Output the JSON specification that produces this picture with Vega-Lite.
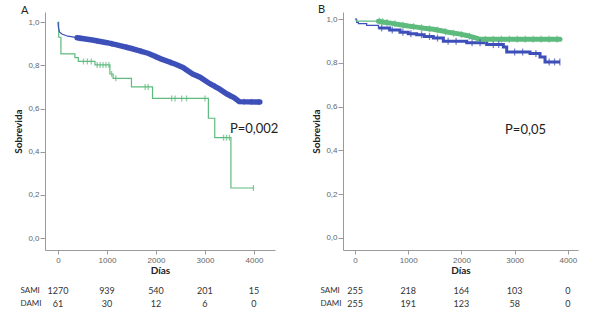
{
  "$schema": "https://vega.github.io/schema/vega-lite/v6.json",
  "padding": {"left": 13, "top": 4, "right": 5, "bottom": 2},
  "background": "white",
  "config": {
    "view": {"stroke": null},
    "font": "Liberation Sans",
    "axis": {"grid": false, "domainColor": "#9a9a9a", "tickColor": "#9a9a9a", "labelColor": "#666", "labelFontSize": 8, "titleColor": "#222", "titleFontSize": 10, "titleFontWeight": "bold", "titleFont": "Lato", "labelFont": "Liberation Sans"}
  },
  "datasets": {
    "km": [
      {"panel": "A", "group": "SAMI", "day": 0, "surv": 1.0},
      {"panel": "A", "group": "SAMI", "day": 10, "surv": 0.975},
      {"panel": "A", "group": "SAMI", "day": 30, "surv": 0.955},
      {"panel": "A", "group": "SAMI", "day": 80, "surv": 0.945},
      {"panel": "A", "group": "SAMI", "day": 200, "surv": 0.935},
      {"panel": "A", "group": "SAMI", "day": 390, "surv": 0.928},
      {"panel": "A", "group": "SAMI", "day": 700, "surv": 0.917},
      {"panel": "A", "group": "SAMI", "day": 1000, "surv": 0.905},
      {"panel": "A", "group": "SAMI", "day": 1200, "surv": 0.895},
      {"panel": "A", "group": "SAMI", "day": 1500, "surv": 0.878},
      {"panel": "A", "group": "SAMI", "day": 1850, "surv": 0.855},
      {"panel": "A", "group": "SAMI", "day": 2100, "surv": 0.83},
      {"panel": "A", "group": "SAMI", "day": 2400, "surv": 0.805},
      {"panel": "A", "group": "SAMI", "day": 2550, "surv": 0.79},
      {"panel": "A", "group": "SAMI", "day": 2750, "surv": 0.76},
      {"panel": "A", "group": "SAMI", "day": 2900, "surv": 0.745},
      {"panel": "A", "group": "SAMI", "day": 3100, "surv": 0.715},
      {"panel": "A", "group": "SAMI", "day": 3300, "surv": 0.69},
      {"panel": "A", "group": "SAMI", "day": 3450, "surv": 0.667},
      {"panel": "A", "group": "SAMI", "day": 3600, "surv": 0.65},
      {"panel": "A", "group": "SAMI", "day": 3700, "surv": 0.632},
      {"panel": "A", "group": "SAMI", "day": 4120, "surv": 0.63},
      {"panel": "A", "group": "DAMI", "day": 0, "surv": 1.0},
      {"panel": "A", "group": "DAMI", "day": 15, "surv": 0.93},
      {"panel": "A", "group": "DAMI", "day": 60, "surv": 0.853},
      {"panel": "A", "group": "DAMI", "day": 345, "surv": 0.836},
      {"panel": "A", "group": "DAMI", "day": 415, "surv": 0.818},
      {"panel": "A", "group": "DAMI", "day": 755, "surv": 0.802},
      {"panel": "A", "group": "DAMI", "day": 1060, "surv": 0.76},
      {"panel": "A", "group": "DAMI", "day": 1125, "surv": 0.74},
      {"panel": "A", "group": "DAMI", "day": 1500, "surv": 0.70},
      {"panel": "A", "group": "DAMI", "day": 1930, "surv": 0.647},
      {"panel": "A", "group": "DAMI", "day": 3070, "surv": 0.555},
      {"panel": "A", "group": "DAMI", "day": 3200, "surv": 0.465},
      {"panel": "A", "group": "DAMI", "day": 3530, "surv": 0.232},
      {"panel": "A", "group": "DAMI", "day": 4000, "surv": 0.232},
      {"panel": "B", "group": "SAMI", "day": 0, "surv": 1.0},
      {"panel": "B", "group": "SAMI", "day": 30, "surv": 0.985},
      {"panel": "B", "group": "SAMI", "day": 63, "surv": 0.979},
      {"panel": "B", "group": "SAMI", "day": 219, "surv": 0.971},
      {"panel": "B", "group": "SAMI", "day": 439, "surv": 0.959},
      {"panel": "B", "group": "SAMI", "day": 650, "surv": 0.95},
      {"panel": "B", "group": "SAMI", "day": 846, "surv": 0.94},
      {"panel": "B", "group": "SAMI", "day": 1000, "surv": 0.933},
      {"panel": "B", "group": "SAMI", "day": 1159, "surv": 0.928},
      {"panel": "B", "group": "SAMI", "day": 1300, "surv": 0.92},
      {"panel": "B", "group": "SAMI", "day": 1472, "surv": 0.913},
      {"panel": "B", "group": "SAMI", "day": 1660, "surv": 0.898},
      {"panel": "B", "group": "SAMI", "day": 2099, "surv": 0.892},
      {"panel": "B", "group": "SAMI", "day": 2475, "surv": 0.883},
      {"panel": "B", "group": "SAMI", "day": 2788, "surv": 0.872},
      {"panel": "B", "group": "SAMI", "day": 2851, "surv": 0.849},
      {"panel": "B", "group": "SAMI", "day": 3289, "surv": 0.842},
      {"panel": "B", "group": "SAMI", "day": 3477, "surv": 0.826},
      {"panel": "B", "group": "SAMI", "day": 3571, "surv": 0.804},
      {"panel": "B", "group": "SAMI", "day": 3853, "surv": 0.804},
      {"panel": "B", "group": "DAMI", "day": 0, "surv": 1.0},
      {"panel": "B", "group": "DAMI", "day": 30, "surv": 0.99},
      {"panel": "B", "group": "DAMI", "day": 439, "surv": 0.99},
      {"panel": "B", "group": "DAMI", "day": 550, "surv": 0.985},
      {"panel": "B", "group": "DAMI", "day": 700, "surv": 0.98},
      {"panel": "B", "group": "DAMI", "day": 846, "surv": 0.974},
      {"panel": "B", "group": "DAMI", "day": 1000, "surv": 0.968},
      {"panel": "B", "group": "DAMI", "day": 1159, "surv": 0.963},
      {"panel": "B", "group": "DAMI", "day": 1300, "surv": 0.958},
      {"panel": "B", "group": "DAMI", "day": 1472, "surv": 0.953},
      {"panel": "B", "group": "DAMI", "day": 1650, "surv": 0.945},
      {"panel": "B", "group": "DAMI", "day": 1786, "surv": 0.938},
      {"panel": "B", "group": "DAMI", "day": 1950, "surv": 0.932},
      {"panel": "B", "group": "DAMI", "day": 2099, "surv": 0.925},
      {"panel": "B", "group": "DAMI", "day": 2250, "surv": 0.915},
      {"panel": "B", "group": "DAMI", "day": 2350, "surv": 0.907},
      {"panel": "B", "group": "DAMI", "day": 3853, "surv": 0.907}
    ],
    "cens": [
      {"panel": "A", "group": "SAMI", "day": 450, "surv": 0.926},
      {"panel": "A", "group": "SAMI", "day": 800, "surv": 0.913},
      {"panel": "A", "group": "SAMI", "day": 1100, "surv": 0.9},
      {"panel": "A", "group": "SAMI", "day": 1400, "surv": 0.884},
      {"panel": "A", "group": "SAMI", "day": 1700, "surv": 0.865},
      {"panel": "A", "group": "SAMI", "day": 2000, "surv": 0.84},
      {"panel": "A", "group": "SAMI", "day": 2300, "surv": 0.813},
      {"panel": "A", "group": "SAMI", "day": 2600, "surv": 0.782},
      {"panel": "A", "group": "SAMI", "day": 2850, "surv": 0.75},
      {"panel": "A", "group": "SAMI", "day": 3200, "surv": 0.703},
      {"panel": "A", "group": "SAMI", "day": 3500, "surv": 0.661},
      {"panel": "A", "group": "SAMI", "day": 3800, "surv": 0.632},
      {"panel": "A", "group": "SAMI", "day": 3950, "surv": 0.631},
      {"panel": "A", "group": "SAMI", "day": 4100, "surv": 0.63},
      {"panel": "A", "group": "DAMI", "day": 520, "surv": 0.818},
      {"panel": "A", "group": "DAMI", "day": 600, "surv": 0.818},
      {"panel": "A", "group": "DAMI", "day": 680, "surv": 0.818},
      {"panel": "A", "group": "DAMI", "day": 800, "surv": 0.802},
      {"panel": "A", "group": "DAMI", "day": 860, "surv": 0.802},
      {"panel": "A", "group": "DAMI", "day": 920, "surv": 0.802},
      {"panel": "A", "group": "DAMI", "day": 980, "surv": 0.802},
      {"panel": "A", "group": "DAMI", "day": 1040, "surv": 0.802},
      {"panel": "A", "group": "DAMI", "day": 1095, "surv": 0.76},
      {"panel": "A", "group": "DAMI", "day": 1180, "surv": 0.74},
      {"panel": "A", "group": "DAMI", "day": 1780, "surv": 0.70},
      {"panel": "A", "group": "DAMI", "day": 1840, "surv": 0.70},
      {"panel": "A", "group": "DAMI", "day": 2320, "surv": 0.647},
      {"panel": "A", "group": "DAMI", "day": 2390, "surv": 0.647},
      {"panel": "A", "group": "DAMI", "day": 2525, "surv": 0.647},
      {"panel": "A", "group": "DAMI", "day": 2625, "surv": 0.647},
      {"panel": "A", "group": "DAMI", "day": 3000, "surv": 0.647},
      {"panel": "A", "group": "DAMI", "day": 3380, "surv": 0.465},
      {"panel": "A", "group": "DAMI", "day": 3440, "surv": 0.465},
      {"panel": "A", "group": "DAMI", "day": 3500, "surv": 0.465},
      {"panel": "A", "group": "DAMI", "day": 3990, "surv": 0.232},
      {"panel": "B", "group": "SAMI", "day": 500, "surv": 0.959},
      {"panel": "B", "group": "SAMI", "day": 700, "surv": 0.95},
      {"panel": "B", "group": "SAMI", "day": 900, "surv": 0.94},
      {"panel": "B", "group": "SAMI", "day": 1050, "surv": 0.933},
      {"panel": "B", "group": "SAMI", "day": 1250, "surv": 0.928},
      {"panel": "B", "group": "SAMI", "day": 1400, "surv": 0.92},
      {"panel": "B", "group": "SAMI", "day": 1550, "surv": 0.913},
      {"panel": "B", "group": "SAMI", "day": 1750, "surv": 0.898},
      {"panel": "B", "group": "SAMI", "day": 1900, "surv": 0.898},
      {"panel": "B", "group": "SAMI", "day": 2200, "surv": 0.892},
      {"panel": "B", "group": "SAMI", "day": 2350, "surv": 0.892},
      {"panel": "B", "group": "SAMI", "day": 2600, "surv": 0.883},
      {"panel": "B", "group": "SAMI", "day": 2700, "surv": 0.883},
      {"panel": "B", "group": "SAMI", "day": 3000, "surv": 0.849},
      {"panel": "B", "group": "SAMI", "day": 3150, "surv": 0.849},
      {"panel": "B", "group": "SAMI", "day": 3400, "surv": 0.842},
      {"panel": "B", "group": "SAMI", "day": 3650, "surv": 0.804},
      {"panel": "B", "group": "SAMI", "day": 3750, "surv": 0.804},
      {"panel": "B", "group": "SAMI", "day": 3850, "surv": 0.804},
      {"panel": "B", "group": "DAMI", "day": 460, "surv": 0.99},
      {"panel": "B", "group": "DAMI", "day": 520, "surv": 0.987},
      {"panel": "B", "group": "DAMI", "day": 600, "surv": 0.984},
      {"panel": "B", "group": "DAMI", "day": 750, "surv": 0.978},
      {"panel": "B", "group": "DAMI", "day": 900, "surv": 0.972},
      {"panel": "B", "group": "DAMI", "day": 1100, "surv": 0.965},
      {"panel": "B", "group": "DAMI", "day": 1250, "surv": 0.96},
      {"panel": "B", "group": "DAMI", "day": 1400, "surv": 0.955},
      {"panel": "B", "group": "DAMI", "day": 1550, "surv": 0.95},
      {"panel": "B", "group": "DAMI", "day": 1700, "surv": 0.942},
      {"panel": "B", "group": "DAMI", "day": 1850, "surv": 0.935},
      {"panel": "B", "group": "DAMI", "day": 2000, "surv": 0.929},
      {"panel": "B", "group": "DAMI", "day": 2150, "surv": 0.921},
      {"panel": "B", "group": "DAMI", "day": 2450, "surv": 0.907},
      {"panel": "B", "group": "DAMI", "day": 2600, "surv": 0.907},
      {"panel": "B", "group": "DAMI", "day": 2750, "surv": 0.907},
      {"panel": "B", "group": "DAMI", "day": 2900, "surv": 0.907},
      {"panel": "B", "group": "DAMI", "day": 3050, "surv": 0.907},
      {"panel": "B", "group": "DAMI", "day": 3200, "surv": 0.907},
      {"panel": "B", "group": "DAMI", "day": 3350, "surv": 0.907},
      {"panel": "B", "group": "DAMI", "day": 3500, "surv": 0.907},
      {"panel": "B", "group": "DAMI", "day": 3650, "surv": 0.907},
      {"panel": "B", "group": "DAMI", "day": 3800, "surv": 0.907}
    ],
    "notes": [
      {"panel": "A", "label": "P=0,002", "day": 3510, "surv": 0.505},
      {"panel": "B", "label": "P=0,05", "day": 2820, "surv": 0.493}
    ],
    "risk": [
      {"panel": "A", "group": "SAMI", "day": 0, "n": 1270},
      {"panel": "A", "group": "SAMI", "day": 1000, "n": 939},
      {"panel": "A", "group": "SAMI", "day": 2000, "n": 540},
      {"panel": "A", "group": "SAMI", "day": 3000, "n": 201},
      {"panel": "A", "group": "SAMI", "day": 4000, "n": 15},
      {"panel": "A", "group": "DAMI", "day": 0, "n": 61},
      {"panel": "A", "group": "DAMI", "day": 1000, "n": 30},
      {"panel": "A", "group": "DAMI", "day": 2000, "n": 12},
      {"panel": "A", "group": "DAMI", "day": 3000, "n": 6},
      {"panel": "A", "group": "DAMI", "day": 4000, "n": 0},
      {"panel": "B", "group": "SAMI", "day": 0, "n": 255},
      {"panel": "B", "group": "SAMI", "day": 1000, "n": 218},
      {"panel": "B", "group": "SAMI", "day": 2000, "n": 164},
      {"panel": "B", "group": "SAMI", "day": 3000, "n": 103},
      {"panel": "B", "group": "SAMI", "day": 4000, "n": 0},
      {"panel": "B", "group": "DAMI", "day": 0, "n": 255},
      {"panel": "B", "group": "DAMI", "day": 1000, "n": 191},
      {"panel": "B", "group": "DAMI", "day": 2000, "n": 123},
      {"panel": "B", "group": "DAMI", "day": 3000, "n": 58},
      {"panel": "B", "group": "DAMI", "day": 4000, "n": 0}
    ]
  },
  "columns": 2,
  "bounds": "flush",
  "spacing": {"row": 34, "column": 68},
  "concat": [
    {
      "width": 230,
      "height": 238,
      "title": {"text": "A", "anchor": "start", "frame": "group", "offset": -4, "fontSize": 11, "fontWeight": "normal", "font": "Lato", "color": "#222", "dx": -24},
      "encoding": {
        "x": {"field": "day", "type": "quantitative", "scale": {"domain": [-265, 4430], "nice": false, "zero": false},
              "axis": {"values": [0, 1000, 2000, 3000, 4000], "format": "d", "title": "Días", "tickSize": 4, "labelPadding": 2, "titlePadding": 1}},
        "y": {"field": "surv", "type": "quantitative", "scale": {"domain": [-0.055, 1.047], "nice": false, "zero": false},
              "axis": {"values": [0, 0.2, 0.4, 0.6, 0.8, 1.0], "labelExpr": "replace(format(datum.value, '.1f'), '.', ',')", "title": "Sobrevida", "tickSize": 5, "labelPadding": 1, "titlePadding": 4}}
      },
      "layer": [
        {
          "data": {"name": "km"},
          "transform": [{"filter": "datum.panel == 'A' && datum.group == 'DAMI'"}],
          "mark": {"type": "line", "interpolate": "step-after", "strokeWidth": 1.2},
          "encoding": {"color": {"field": "group", "type": "nominal", "scale": {"domain": ["SAMI", "DAMI"], "range": ["#3d4fb8", "#5dbb7d"]}, "legend": null}}
        },
        {
          "data": {"name": "km"},
          "transform": [{"filter": "datum.panel == 'A' && datum.group == 'SAMI'"}],
          "mark": {"type": "line", "interpolate": "linear", "strokeWidth": 1.2},
          "encoding": {"color": {"field": "group", "type": "nominal", "scale": {"domain": ["SAMI", "DAMI"], "range": ["#3d4fb8", "#5dbb7d"]}, "legend": null}}
        },
        {
          "data": {"name": "km"},
          "transform": [{"filter": "datum.panel == 'A' && datum.group == 'SAMI' && datum.day >= 390"}],
          "mark": {"type": "line", "interpolate": "linear", "strokeWidth": 5.5, "strokeCap": "round"},
          "encoding": {"color": {"field": "group", "type": "nominal", "scale": {"domain": ["SAMI", "DAMI"], "range": ["#3d4fb8", "#5dbb7d"]}, "legend": null}}
        },
        {
          "data": {"name": "cens"},
          "transform": [{"filter": "datum.panel == 'A'"}],
          "mark": {"type": "tick", "orient": "vertical", "size": 6, "thickness": 1.3},
          "encoding": {"color": {"field": "group", "type": "nominal", "scale": {"domain": ["SAMI", "DAMI"], "range": ["#3d4fb8", "#5dbb7d"]}, "legend": null}}
        },
        {
          "data": {"name": "notes"},
          "transform": [{"filter": "datum.panel == 'A'"}],
          "mark": {"type": "text", "align": "left", "baseline": "middle", "font": "Lato", "fontSize": 13, "color": "#222"},
          "encoding": {"text": {"field": "label"}}
        }
      ]
    },
    {
      "width": 235,
      "height": 238,
      "title": {"text": "B", "anchor": "start", "frame": "group", "offset": -4, "fontSize": 11, "fontWeight": "normal", "font": "Lato", "color": "#222", "dx": -25},
      "encoding": {
        "x": {"field": "day", "type": "quantitative", "scale": {"domain": [-226, 4191], "nice": false, "zero": false},
              "axis": {"values": [0, 1000, 2000, 3000, 4000], "format": "d", "title": "Días", "tickSize": 4, "labelPadding": 2, "titlePadding": 1}},
        "y": {"field": "surv", "type": "quantitative", "scale": {"domain": [-0.055, 1.032], "nice": false, "zero": false},
              "axis": {"values": [0, 0.2, 0.4, 0.6, 0.8, 1.0], "labelExpr": "replace(format(datum.value, '.1f'), '.', ',')", "title": "Sobrevida", "tickSize": 5, "labelPadding": 1, "titlePadding": 4}}
      },
      "layer": [
        {
          "data": {"name": "km"},
          "transform": [{"filter": "datum.panel == 'B' && datum.group == 'SAMI'"}],
          "mark": {"type": "line", "interpolate": "step-after", "strokeWidth": 1.2},
          "encoding": {"color": {"field": "group", "type": "nominal", "scale": {"domain": ["SAMI", "DAMI"], "range": ["#3d4fb8", "#4db554"]}, "legend": null}}
        },
        {
          "data": {"name": "km"},
          "transform": [{"filter": "datum.panel == 'B' && datum.group == 'SAMI' && datum.day >= 439"}],
          "mark": {"type": "line", "interpolate": "step-after", "strokeWidth": 3},
          "encoding": {"color": {"field": "group", "type": "nominal", "scale": {"domain": ["SAMI", "DAMI"], "range": ["#3d4fb8", "#4db554"]}, "legend": null}}
        },
        {
          "data": {"name": "km"},
          "transform": [{"filter": "datum.panel == 'B' && datum.group == 'DAMI'"}],
          "mark": {"type": "line", "interpolate": "linear", "strokeWidth": 1.2},
          "encoding": {"color": {"field": "group", "type": "nominal", "scale": {"domain": ["SAMI", "DAMI"], "range": ["#3d4fb8", "#4db554"]}, "legend": null}}
        },
        {
          "data": {"name": "km"},
          "transform": [{"filter": "datum.panel == 'B' && datum.group == 'DAMI' && datum.day >= 439"}],
          "mark": {"type": "line", "interpolate": "linear", "strokeWidth": 5, "strokeCap": "round"},
          "encoding": {"color": {"field": "group", "type": "nominal", "scale": {"domain": ["SAMI", "DAMI"], "range": ["#3d4fb8", "#4db554"]}, "legend": null}}
        },
        {
          "data": {"name": "cens"},
          "transform": [{"filter": "datum.panel == 'B'"}],
          "mark": {"type": "tick", "orient": "vertical", "size": 7, "thickness": 1.3},
          "encoding": {"color": {"field": "group", "type": "nominal", "scale": {"domain": ["SAMI", "DAMI"], "range": ["#3d4fb8", "#4db554"]}, "legend": null}}
        },
        {
          "data": {"name": "notes"},
          "transform": [{"filter": "datum.panel == 'B'"}],
          "mark": {"type": "text", "align": "left", "baseline": "middle", "font": "Lato", "fontSize": 13, "color": "#222"},
          "encoding": {"text": {"field": "label"}}
        }
      ]
    },
    {
      "width": 230,
      "height": 26,
      "data": {"name": "risk"},
      "transform": [{"filter": "datum.panel == 'A'"}],
      "mark": {"type": "text", "font": "Lato", "fontSize": 9, "color": "#333"},
      "encoding": {
        "x": {"field": "day", "type": "quantitative", "scale": {"domain": [-265, 4430], "nice": false, "zero": false}, "axis": null},
        "y": {"field": "group", "type": "nominal", "sort": ["SAMI", "DAMI"], "axis": {"title": null, "domain": false, "ticks": false, "tickSize": 0, "labelAlign": "left", "labelPadding": 25, "labelFont": "Lato", "labelFontSize": 8, "labelColor": "#333"}},
        "text": {"field": "n", "type": "quantitative"}
      }
    },
    {
      "width": 235,
      "height": 26,
      "data": {"name": "risk"},
      "transform": [{"filter": "datum.panel == 'B'"}],
      "mark": {"type": "text", "font": "Lato", "fontSize": 9, "color": "#333"},
      "encoding": {
        "x": {"field": "day", "type": "quantitative", "scale": {"domain": [-226, 4191], "nice": false, "zero": false}, "axis": null},
        "y": {"field": "group", "type": "nominal", "sort": ["SAMI", "DAMI"], "axis": {"title": null, "domain": false, "ticks": false, "tickSize": 0, "labelAlign": "left", "labelPadding": 23, "labelFont": "Lato", "labelFontSize": 8, "labelColor": "#333"}},
        "text": {"field": "n", "type": "quantitative"}
      }
    }
  ]
}
